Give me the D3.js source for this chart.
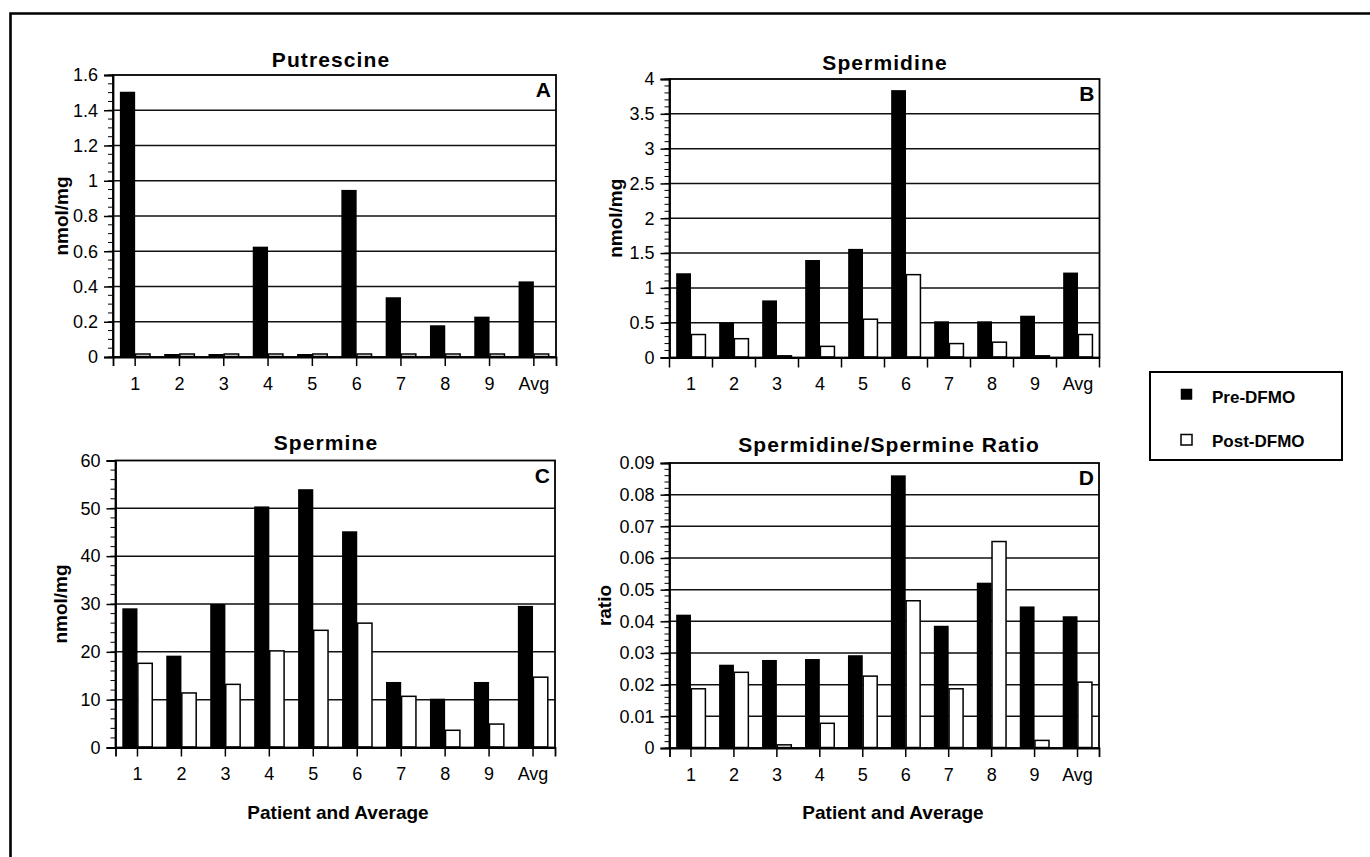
<!DOCTYPE html>
<html>
<head>
<meta charset="utf-8">
<script src="https://cdn.jsdelivr.net/npm/d3@7"></script>
<style>
  html, body { margin: 0; padding: 0; background: #fff; }
  svg { display: block; font-family: "Liberation Sans", Arial, Helvetica, sans-serif; }
</style>
</head>
<body>
<svg id="chart" width="1370" height="857"></svg>
<script>
// ---------- data ----------
const categories = ["1", "2", "3", "4", "5", "6", "7", "8", "9", "Avg"];
const seriesNames = ["Pre-DFMO", "Post-DFMO"];

const putrescinePre  = [1.505, 0.017, 0.017, 0.626, 0.017, 0.948, 0.339, 0.180, 0.229, 0.429];
const putrescinePost = [0.017, 0.017, 0.017, 0.017, 0.017, 0.017, 0.017, 0.017, 0.017, 0.017];

const spermidinePre  = [1.21, 0.50, 0.82, 1.40, 1.56, 3.84, 0.52, 0.52, 0.60, 1.22];
const spermidinePost = [0.33, 0.27, 0.024, 0.16, 0.55, 1.19, 0.20, 0.22, 0.024, 0.33];

const sperminePre  = [29.1, 19.2, 30.0, 50.4, 54.0, 45.2, 13.7, 10.2, 13.7, 29.6];
const sperminePost = [17.6, 11.4, 13.2, 20.2, 24.5, 26.0, 10.7, 3.6, 4.9, 14.7];

const ratioPre  = [0.0421, 0.0263, 0.0278, 0.0281, 0.0293, 0.0861, 0.0386, 0.0522, 0.0447, 0.0416];
const ratioPost = [0.0187, 0.0239, 0.0010, 0.0078, 0.0227, 0.0465, 0.0187, 0.0652, 0.0024, 0.0208];

const putrescineTicks = [0, 0.2, 0.4, 0.6, 0.8, 1, 1.2, 1.4, 1.6];
const spermidineTicks = [0, 0.5, 1, 1.5, 2, 2.5, 3, 3.5, 4];
const spermineTicks   = [0, 10, 20, 30, 40, 50, 60];
const ratioTicks      = [0, 0.01, 0.02, 0.03, 0.04, 0.05, 0.06, 0.07, 0.08, 0.09];

const panelTitles = ["Putrescine", "Spermidine", "Spermine", "Spermidine/Spermine Ratio"];
const panelLetters = ["A", "B", "C", "D"];
const yTitles = ["nmol/mg", "nmol/mg", "nmol/mg", "ratio"];
const xTitle = "Patient and Average";

// ---------- layout (positions / styles) ----------
const panels = [
  { pre: putrescinePre, post: putrescinePost, ticks: putrescineTicks, minor: 0.05,
    x0: 113, x1: 556, yb: 357, yt: 75, tickMode: "center",
    titleX: 331, titleY: 67, yTitleX: 61, showX: false },
  { pre: spermidinePre, post: spermidinePost, ticks: spermidineTicks, minor: 0.1,
    x0: 669.5, x1: 1099.5, yb: 357.5, yt: 79, tickMode: "edge",
    titleX: 885, titleY: 70, yTitleX: 615, showX: false },
  { pre: sperminePre, post: sperminePost, ticks: spermineTicks, minor: 2,
    x0: 115.5, x1: 555, yb: 747.5, yt: 460.5, tickMode: "center",
    titleX: 326, titleY: 450, yTitleX: 60, showX: true, xTitleX: 338 },
  { pre: ratioPre, post: ratioPost, ticks: ratioTicks, minor: 0.002,
    x0: 669.5, x1: 1099, yb: 748, yt: 463, tickMode: "center",
    titleX: 889, titleY: 452, yTitleX: 604, showX: true, xTitleX: 893 }
];

const svg = d3.select("#chart");
svg.append("rect").attr("width", 1370).attr("height", 857).attr("fill", "#fff");

// outer frame (left + top visible)
svg.append("path")
  .attr("d", "M10.5,857 V13.5 H1370")
  .attr("fill", "none").attr("stroke", "#000").attr("stroke-width", 2.6);

const fmt = v => String(+v.toFixed(4));

panels.forEach((p, i) => {
  const g = svg.append("g");
  const max = p.ticks[p.ticks.length - 1];
  const y = d3.scaleLinear().domain([0, max]).range([p.yb, p.yt]);
  const x = d3.scaleBand().domain(categories).range([p.x0, p.x1]).paddingInner(0).paddingOuter(0);
  const bw = x.bandwidth() * 0.345;

  // gridlines
  g.append("g").selectAll("line")
    .data(p.ticks.filter(t => t > 0 && t < max))
    .join("line")
    .attr("x1", p.x0).attr("x2", p.x1)
    .attr("y1", d => y(d)).attr("y2", d => y(d))
    .attr("stroke", "#111").attr("stroke-width", 1.5);

  // bars
  const center = c => x(c) + x.bandwidth() / 2;
  g.append("g").selectAll("rect")
    .data(categories.map((c, k) => ({ c, v: p.pre[k] })))
    .join("rect")
    .attr("x", d => center(d.c) - bw)
    .attr("width", bw)
    .attr("y", d => y(d.v))
    .attr("height", d => y(0) - y(d.v))
    .attr("fill", "#000");
  g.append("g").selectAll("rect")
    .data(categories.map((c, k) => ({ c, v: p.post[k] })))
    .join("rect")
    .attr("x", d => center(d.c) + 0.4)
    .attr("width", bw - 0.8)
    .attr("y", d => y(d.v))
    .attr("height", d => Math.max(0.5, y(0) - y(d.v) - 0.5))
    .attr("fill", "#fff")
    .attr("stroke", "#000").attr("stroke-width", 1.5);

  // plot frame
  g.append("rect")
    .attr("x", p.x0).attr("y", p.yt)
    .attr("width", p.x1 - p.x0).attr("height", p.yb - p.yt)
    .attr("fill", "none").attr("stroke", "#000").attr("stroke-width", 1.8);

  // minor ticks
  const minorVals = d3.range(0, Math.round(max / p.minor) + 1).map(k => k * p.minor);
  g.append("g").selectAll("line")
    .data(minorVals)
    .join("line")
    .attr("x1", p.x0 - 5).attr("x2", p.x0)
    .attr("y1", d => y(d)).attr("y2", d => y(d))
    .attr("stroke", "#000").attr("stroke-width", 1);

  // y axis
  const ya = g.append("g").attr("transform", `translate(${p.x0},0)`)
    .call(d3.axisLeft(y).tickValues(p.ticks).tickFormat(fmt).tickSize(9).tickPadding(6));
  ya.select(".domain").attr("stroke", "#000").attr("stroke-width", 1.8);
  ya.selectAll(".tick line").attr("stroke", "#000").attr("stroke-width", 1.5);
  ya.selectAll(".tick text").attr("font-size", 18).attr("fill", "#000")
    .attr("font-family", "'Liberation Sans', Arial, sans-serif");

  // x axis
  const xa = g.append("g").attr("transform", `translate(0,${p.yb})`)
    .call(d3.axisBottom(x).tickSize(p.tickMode === "center" ? 9 : 0).tickPadding(p.tickMode === "center" ? 11 : 20));
  xa.select(".domain").attr("stroke", "#000").attr("stroke-width", 1.8);
  xa.selectAll(".tick line").attr("stroke", "#000").attr("stroke-width", 1.5);
  xa.selectAll(".tick text").attr("font-size", 18).attr("fill", "#000")
    .attr("font-family", "'Liberation Sans', Arial, sans-serif");
  if (p.tickMode === "edge") {
    const edges = d3.range(0, categories.length + 1).map(k => p.x0 + k * x.step());
    g.append("g").selectAll("line").data(edges).join("line")
      .attr("x1", d => d).attr("x2", d => d)
      .attr("y1", p.yb).attr("y2", p.yb + 10)
      .attr("stroke", "#000").attr("stroke-width", 1.5);
  }

  // titles
  g.append("text").attr("x", p.titleX).attr("y", p.titleY)
    .attr("text-anchor", "middle").attr("font-size", 21).attr("font-weight", "bold")
    .attr("letter-spacing", 1.1)
    .text(panelTitles[i]);
  g.append("text").attr("x", p.x1 - 5).attr("y", p.yt + 22)
    .attr("text-anchor", "end").attr("font-size", 21).attr("font-weight", "bold")
    .text(panelLetters[i]);
  g.append("text")
    .attr("transform", `translate(${p.yTitleX},${(p.yt + p.yb) / 2}) rotate(-90)`)
    .attr("text-anchor", "middle").attr("dy", "0.35em")
    .attr("font-size", 19).attr("font-weight", "bold")
    .text(yTitles[i]);
  if (p.showX) {
    g.append("text").attr("x", p.xTitleX).attr("y", 819)
      .attr("text-anchor", "middle").attr("font-size", 19).attr("font-weight", "bold")
      .text(xTitle);
  }
});

// legend
const lg = svg.append("g");
lg.append("rect").attr("x", 1150).attr("y", 372).attr("width", 192).attr("height", 88)
  .attr("fill", "#fff").attr("stroke", "#000").attr("stroke-width", 2);
const legendRows = seriesNames.map((name, k) => ({ name, k }));
lg.selectAll("rect.mk").data(legendRows).join("rect").attr("class", "mk")
  .attr("x", 1181).attr("y", d => d.k === 0 ? 389 : 434.5)
  .attr("width", 11).attr("height", 10.5)
  .attr("fill", d => d.k === 0 ? "#000" : "#fff")
  .attr("stroke", "#000").attr("stroke-width", d => d.k === 0 ? 0.5 : 1.5);
lg.selectAll("text").data(legendRows).join("text")
  .attr("x", 1212).attr("y", d => d.k === 0 ? 403 : 446.5)
  .attr("font-size", 17).attr("font-weight", "bold")
  .text(d => d.name);
</script>
</body>
</html>
